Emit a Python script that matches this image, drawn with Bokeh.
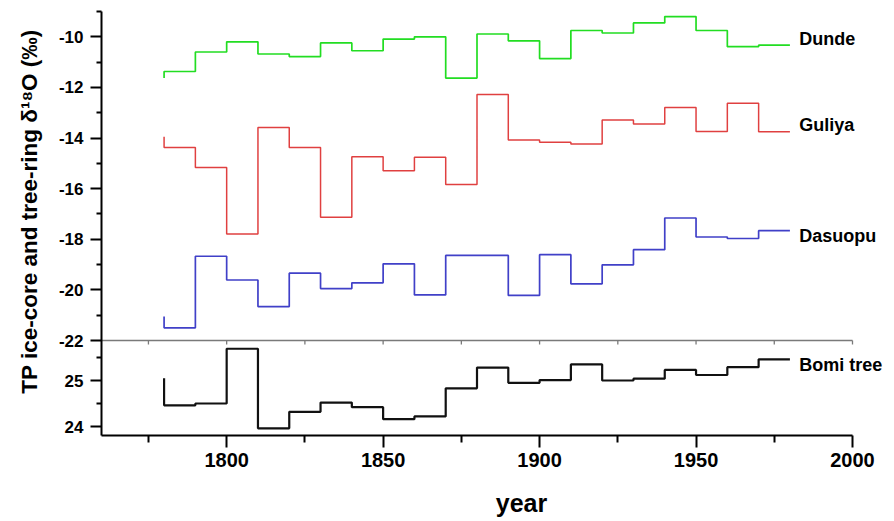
import math
from bokeh.plotting import figure
from bokeh.models import Range1d, FixedTicker, Label
from bokeh.embed import file_html
from bokeh.resources import INLINE

# ---------------- data (decadal step series, 1780-1980) ----------------
years = [1780, 1790, 1800, 1810, 1820, 1830, 1840, 1850, 1860, 1870, 1880,
         1890, 1900, 1910, 1920, 1930, 1940, 1950, 1960, 1970, 1980]
dunde = [-11.63, -11.37, -10.60, -10.20, -10.68, -10.78, -10.24, -10.55, -10.09, -10.00, -11.63,
         -9.89, -10.16, -10.86, -9.75, -9.85, -9.45, -9.20, -9.75, -10.39, -10.33]
guliya = [-13.95, -14.37, -15.16, -17.79, -13.58, -14.37, -17.13, -14.74, -15.29, -14.76, -15.84,
          -12.28, -14.08, -14.17, -14.24, -13.29, -13.45, -12.79, -13.74, -12.63, -13.75]
dasuopu = [-21.05, -21.50, -18.67, -19.61, -20.66, -19.34, -19.95, -19.72, -18.97, -20.20, -18.64,
           -18.64, -20.22, -18.61, -19.76, -19.01, -18.41, -17.16, -17.91, -17.97, -17.66]
bomi = [25.05, 24.46, 24.50, 25.69, 23.96, 24.32, 24.52, 24.42, 24.16, 24.22, 24.83,
        25.28, 24.95, 25.01, 25.35, 25.00, 25.04, 25.23, 25.12, 25.29, 25.46]

names = ["Dunde", "Guliya", "Dasuopu", "Bomi tree"]
name_y = [-10.08, -13.47, -17.86, 25.33]
name_x = 1983

x_major = [1800, 1850, 1900, 1950, 2000]
x_minor = [1775, 1825, 1875, 1925, 1975]
top_major = [-22, -20, -18, -16, -14, -12, -10]
top_minor = [-21, -19, -17, -15, -13, -11, -9]
bomi_major = [24, 25]
bomi_minor = [24.5, 25.5]

y_title = "TP ice-core and tree-ring \u03b4\u00b9\u2078O (\u2030)"
x_title = "year"

# ---------------- layout geometry (pixels on the page) ----------------
W, H = 886, 520
AX_LEFT, AX_TOP, AX_BOTTOM = 101, 11, 435   # where the axes are drawn
AX_RIGHT = 852
X0, X_END = 1760, 2000
x_ppu = (AX_RIGHT - AX_LEFT) / (X_END - X0)

T_TOP, T_SEP = -9.0, -22.0
SEP_PX = 340
t_ppu = (SEP_PX - AX_TOP) / (T_TOP - T_SEP)

b_ppu = 46.0
B_REF, B_REF_PX = 25.0, 380


def px_to_x(px):
    return X0 + (px - AX_LEFT) / x_ppu


def px_to_main(py):
    return T_TOP - (py - AX_TOP) / t_ppu


def px_to_bomi(py):
    return B_REF - (py - B_REF_PX) / b_ppu


def b2m(b):
    return round(px_to_main(B_REF_PX - (b - B_REF) * b_ppu), 6)


FONT = "Liberation Sans"

p = figure(width=W, height=H,
           x_range=Range1d(px_to_x(0), px_to_x(W)),
           y_range=Range1d(px_to_main(H), px_to_main(0)),
           output_backend="svg", toolbar_location=None,
           min_border_left=0, min_border_right=0, min_border_top=0, min_border_bottom=0)
p.extra_y_ranges = {"bomi": Range1d(px_to_bomi(H), px_to_bomi(0))}
p.outline_line_color = None
p.xgrid.visible = False
p.ygrid.visible = False
p.background_fill_color = "white"
p.border_fill_color = "white"

main_axis_bottom = px_to_main(AX_BOTTOM)

# left axis (both panels), pinned to x = 1760
ya = p.yaxis[0]
ya.fixed_location = X0
ya.bounds = (main_axis_bottom, T_TOP)
ya.ticker = FixedTicker(ticks=top_major + [b2m(b) for b in bomi_major],
                        minor_ticks=top_minor + [b2m(b) for b in bomi_minor])
overrides = {t: str(t) for t in top_major}
overrides.update({b2m(b): str(b) for b in bomi_major})
ya.major_label_overrides = overrides
ya.axis_line_color = "black"
ya.axis_line_width = 2
ya.major_tick_line_width = 2
ya.minor_tick_line_width = 2
ya.major_tick_out = 11
ya.major_tick_in = 0
ya.minor_tick_out = 5
ya.minor_tick_in = 0
ya.major_label_standoff = 7
ya.major_label_text_font = FONT
ya.major_label_text_font_style = "bold"
ya.major_label_text_font_size = "17px"
ya.major_label_text_color = "black"

# bottom axis, pinned to the bottom of the lower panel
xa = p.xaxis[0]
xa.fixed_location = main_axis_bottom
xa.bounds = (X0, X_END)
xa.ticker = FixedTicker(ticks=x_major, minor_ticks=x_minor)
xa.axis_line_color = "black"
xa.axis_line_width = 2
xa.major_tick_line_width = 2
xa.minor_tick_line_width = 2
xa.major_tick_out = 12
xa.major_tick_in = 0
xa.minor_tick_out = 7
xa.minor_tick_in = 0
xa.major_label_standoff = 5
xa.major_label_text_font = FONT
xa.major_label_text_font_style = "bold"
xa.major_label_text_font_size = "20px"
xa.major_label_text_color = "black"

# separator between panels (top edge of the lower panel) with small inward ticks
p.segment(x0=[X0], y0=[T_SEP], x1=[X_END], y1=[T_SEP], line_color="#7a7a7a", line_width=1.3)
sep_ticks = sorted(x_major + x_minor)
p.segment(x0=sep_ticks, y0=[T_SEP] * len(sep_ticks), x1=sep_ticks,
          y1=[T_SEP - 4 / t_ppu] * len(sep_ticks), line_color="#7a7a7a", line_width=1.3)

# series
p.step(years, dunde, mode="before", line_color="#22dd22", line_width=1.7)
p.step(years, guliya, mode="before", line_color="#e04040", line_width=1.5)
p.step(years, dasuopu, mode="before", line_color="#4040c8", line_width=1.7)
p.step(years, bomi, mode="before", line_color="#111111", line_width=2.2, y_range_name="bomi")

for i, nm in enumerate(names):
    kw = dict(y_range_name="bomi") if nm == "Bomi tree" else {}
    p.add_layout(Label(x=name_x, y=name_y[i], text=nm, text_font=FONT, text_font_style="bold",
                       text_font_size="18px", text_baseline="middle", text_align="left",
                       text_color="black", **kw))

# axis titles
p.add_layout(Label(x=px_to_x(29), y=px_to_main(211), text=y_title, angle=math.pi / 2,
                   text_align="center", text_baseline="middle",
                   text_font=FONT, text_font_style="bold", text_font_size="22.5px",
                   text_color="black"))
p.add_layout(Label(x=px_to_x(521), y=px_to_main(502), text=x_title,
                   text_align="center", text_baseline="middle",
                   text_font=FONT, text_font_style="bold", text_font_size="25px",
                   text_color="black"))

open("out.html", "w").write(file_html(p, INLINE))
